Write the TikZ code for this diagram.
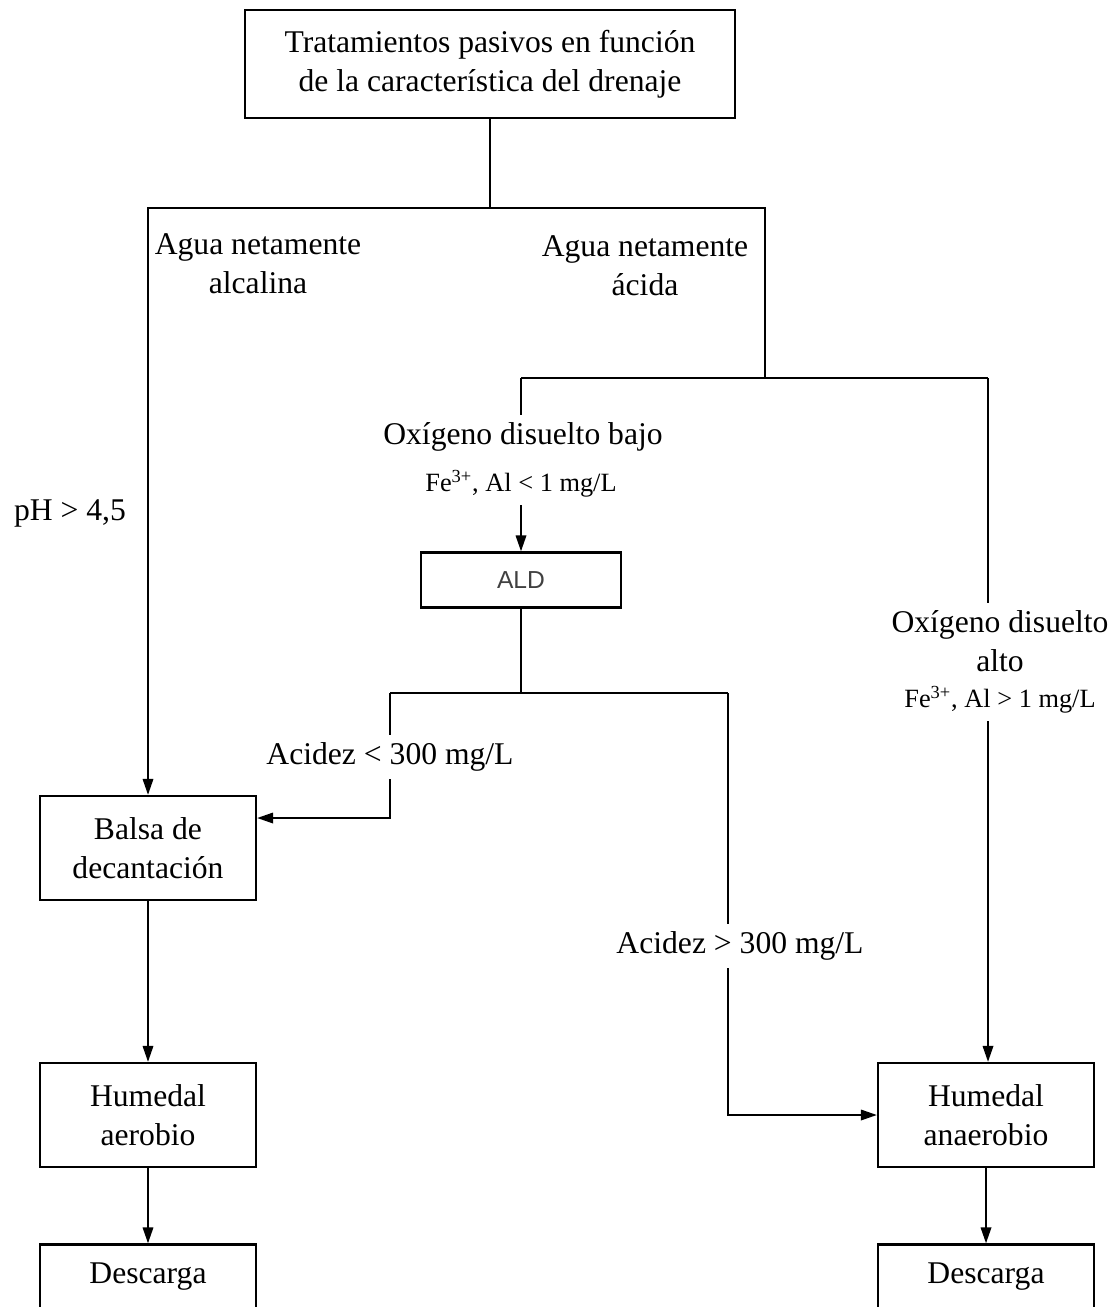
\documentclass[tikz,border=0pt]{standalone}
\usepackage{fontspec}
\setmainfont{Liberation Serif}
\setsansfont{Liberation Sans}
\usetikzlibrary{arrows.meta}

\begin{document}
\begin{tikzpicture}[x=0.02cm,y=-0.02cm,line width=0.9pt,
        box/.style={draw,line width=1.4pt,minimum width=4.32cm,minimum height=2.08cm,align=center,font=\fontsize{18}{22}\selectfont},
        lbl/.style={inner sep=4pt,align=center,font=\fontsize{18}{22}\selectfont},
        small/.style={inner sep=4pt,font=\fontsize{15}{18}\selectfont},
        arr/.style={-{Triangle[length=9pt,width=6pt]}}]
        \useasboundingbox (0,0) rectangle (1117,1307);
        % boxes
        \node[box,minimum width=9.8cm,minimum height=2.16cm] (top) at (490,64) {Tratamientos pasivos en función\\de la característica del drenaje};
        \node[box,font=\sffamily\fontsize{14}{16}\selectfont,text=black!75,minimum width=4cm,minimum height=1.1cm] (ald) at (521,580) {ALD};
        \node[box] (balsa) at (148,848) {Balsa de\\decantación};
        \node[box] (aerob) at (148,1115) {Humedal\\aerobio};
        \node[box] (anaer) at (986,1115) {Humedal\\anaerobio};
        \node[box,minimum height=1.3cm] (desc1) at (148,1277) {Descarga};
        \node[box,minimum height=1.3cm] (desc2) at (986,1277) {Descarga};
        % labels
        \node[lbl] (alcal) at (258,264) {Agua netamente\\alcalina};
        \node[lbl] (acida) at (645,266) {Agua netamente\\ácida};
        \node[lbl] (ph) at (70,513) {pH > 4,5};
        \node[lbl] (oxbajo) at (523,437) {Oxígeno disuelto bajo};
        \node[small] (febajo) at (521,484) {Fe\textsuperscript{3+}, Al < 1 mg/L};
        \node[lbl] (oxalto) at (1000,641) {Oxígeno disuelto\\alto};
        \node[small] (fealto) at (1000,700) {Fe\textsuperscript{3+}, Al > 1 mg/L};
        \node[lbl] (acmen) at (390,757) {Acidez < 300 mg/L};
        \node[lbl] (acmay) at (740,946) {Acidez > 300 mg/L};
        % junctions
        \coordinate (j1) at (490,208);
        \coordinate (j2) at (765,378);
        \coordinate (j3) at (521,378);
        \coordinate (j4) at (988,378);
        \coordinate (k1) at (390,693);
        \coordinate (k2) at (728,693);
        % connectors
        \draw (top) -- (j1);
        \draw[arr] (j1) -| (balsa);
        \draw (j1) -| (j2);
        \draw (j3) -- (j4);
        \draw (j3) -- (j3 |- oxbajo.north);
        \draw[arr] (febajo) -- (ald);
        \draw (j4) -- (j4 |- oxalto.north);
        \draw[arr] (j4 |- fealto.south) -- (j4 |- anaer.north);
        \draw (ald) -- (ald |- k1);
        \draw (k1) -- (k2);
        \draw (k1) -- (k1 |- acmen.north);
        \draw[arr] (k1 |- acmen.south) |- ([yshift=0.6cm]balsa.east);
        \draw (k2) -- (k2 |- acmay.north);
        \draw[arr] (k2 |- acmay.south) |- (anaer.west);
        \draw[arr] (balsa) -- (aerob);
        \draw[arr] (aerob) -- (desc1);
        \draw[arr] (anaer) -- (desc2);
\end{tikzpicture}
\end{document}
